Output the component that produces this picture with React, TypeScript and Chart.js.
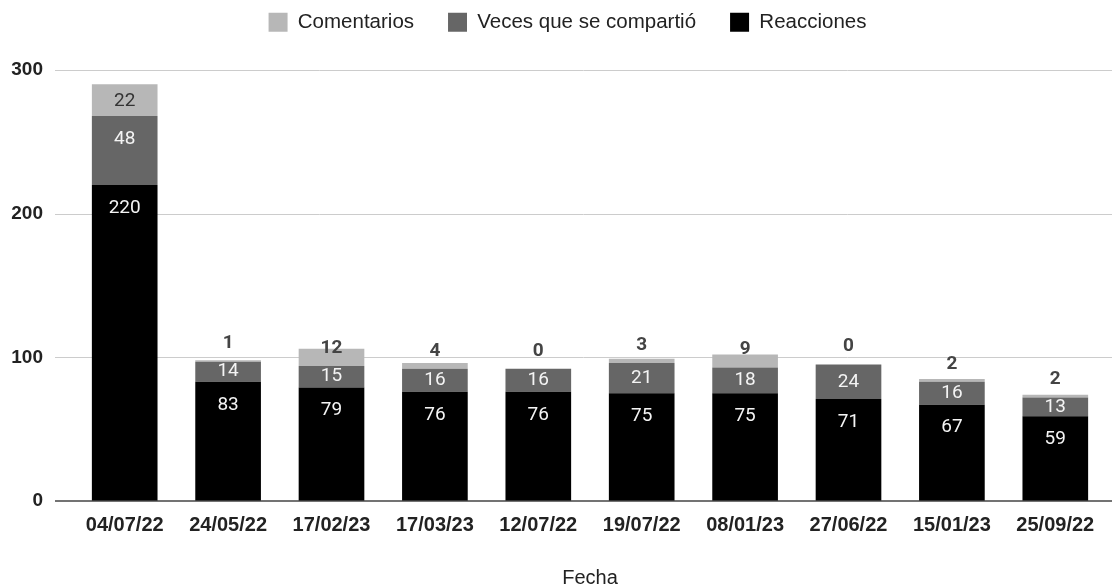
import React, { useEffect, useRef } from "react";
import { Chart, registerables } from "chart.js";

Chart.register(...registerables);

const categories = ["04/07/22", "24/05/22", "17/02/23", "17/03/23", "12/07/22", "19/07/22", "08/01/23", "27/06/22", "15/01/23", "25/09/22"];
const reacciones = [220, 83, 79, 76, 76, 75, 75, 71, 67, 59];
const compartidos = [48, 14, 15, 16, 16, 21, 18, 24, 16, 13];
const comentarios = [22, 1, 12, 4, 0, 3, 9, 0, 2, 2];
const yTicks = [0, 100, 200, 300];

const SANS = "'Liberation Sans', Arial, sans-serif";
const LABEL_FONT = "Roboto, 'Liberation Sans', sans-serif";

const gridPlugin = {
  id: "extGrid",
  beforeDatasetsDraw(chart: any) {
    const { ctx, chartArea, scales } = chart;
    const y = scales.y;
    ctx.save();
    ctx.strokeStyle = "#cccccc";
    ctx.lineWidth = 1;
    yTicks.forEach((v) => {
      if (v === 0) return;
      const py = Math.round(y.getPixelForValue(v)) + 0.5;
      ctx.beginPath();
      ctx.moveTo(chartArea.left - 18, py);
      ctx.lineTo(chartArea.right + 5, py);
      ctx.stroke();
    });
    ctx.restore();
  },
  afterDatasetsDraw(chart: any) {
    const { ctx, chartArea, scales } = chart;
    const py = scales.y.getPixelForValue(0);
    ctx.save();
    ctx.strokeStyle = "#444444";
    ctx.lineWidth = 1.5;
    ctx.beginPath();
    ctx.moveTo(chartArea.left - 18, py);
    ctx.lineTo(chartArea.right + 5, py);
    ctx.stroke();
    ctx.restore();
  },
};

const labelPlugin = {
  id: "segLabels",
  afterDatasetsDraw(chart: any) {
    const { ctx } = chart;
    ctx.save();
    ctx.textAlign = "center";
    ctx.textBaseline = "middle";
    chart.data.datasets.forEach((ds: any, di: number) => {
      const meta = chart.getDatasetMeta(di);
      meta.data.forEach((bar: any, i: number) => {
        const v = ds.data[i];
        const top = Math.min(bar.y, bar.base);
        const bottom = Math.max(bar.y, bar.base);
        const h = bottom - top;
        const center = (top + bottom) / 2;
        if (ds.label === "Comentarios") {
          if (h >= 24) {
            ctx.fillStyle = "#333333";
            ctx.font = `19px ${LABEL_FONT}`;
            ctx.fillText(String(v), bar.x, center + 1);
          } else {
            ctx.fillStyle = "#444444";
            ctx.font = `bold 19px ${LABEL_FONT}`;
            ctx.fillText(String(v), bar.x, bottom - 18);
          }
        } else {
          ctx.fillStyle = "#f4f4f4";
          ctx.font = `19px ${LABEL_FONT}`;
          const y = Math.min(center, top + 23);
          ctx.fillText(String(v), bar.x, y);
        }
      });
    });
    ctx.restore();
  },
};

const legendSizer = {
  id: "legendSizer",
  beforeInit(chart: any) {
    const lg = chart.legend;
    if (!lg) return;
    const orig = lg.fit;
    lg.fit = function () {
      orig.call(this);
      this.height = 92;
    };
  },
  afterLayout(chart: any) {
    if (chart.legend) chart.legend.left += 28;
  },
};

export default function App() {
  const ref = useRef<HTMLCanvasElement | null>(null);

  useEffect(() => {
    document.body.style.margin = "0";
    if (!ref.current) return;
    const chart = new Chart(ref.current, {
      type: "bar",
      data: {
        labels: categories,
        datasets: [
          { label: "Reacciones", data: reacciones, backgroundColor: "#000000", borderWidth: 0 },
          { label: "Veces que se compartió", data: compartidos, backgroundColor: "#666666", borderWidth: 0 },
          { label: "Comentarios", data: comentarios, backgroundColor: "#b7b7b7", borderWidth: 0 },
        ],
      },
      options: {
        responsive: false,
        animation: false,
        devicePixelRatio: 1,
        layout: { padding: { top: -22, left: 0, right: 7, bottom: 0 } },
        datasets: { bar: { barPercentage: 0.635, categoryPercentage: 1 } },
        plugins: {
          legend: {
            position: "top",
            reverse: true,
            labels: {
              boxWidth: 19,
              boxHeight: 19,
              padding: 34,
              color: "#222222",
              font: { family: SANS, size: 20.5 },
            },
          },
          tooltip: { enabled: false },
        },
        scales: {
          x: {
            stacked: true,
            grid: { display: false, drawTicks: false },
            border: { display: false },
            ticks: {
              color: "#222222",
              font: { family: SANS, size: 20, weight: "bold" },
              padding: 12,
              maxRotation: 0,
              autoSkip: false,
            },
            title: {
              display: true,
              text: "Fecha",
              color: "#222222",
              font: { family: SANS, size: 20, lineHeight: 1 },
              padding: { top: 0, bottom: 0 },
            },
            afterFit(scale: any) {
              scale.height = 87;
            },
          },
          y: {
            stacked: true,
            min: 0,
            max: 300,
            grid: { display: false, drawTicks: false },
            border: { display: false },
            ticks: {
              stepSize: 100,
              color: "#222222",
              font: { family: SANS, size: 19, weight: "bold" },
              padding: 30,
            },
            afterFit(scale: any) {
              scale.width = 73;
            },
          },
        },
      },
      plugins: [legendSizer, gridPlugin, labelPlugin],
    } as any);
    return () => chart.destroy();
  }, []);

  return (
    <div style={{ width: 1114, height: 588 }}>
      <canvas ref={ref} width={1114} height={588} style={{ display: "block" }} />
    </div>
  );
}
